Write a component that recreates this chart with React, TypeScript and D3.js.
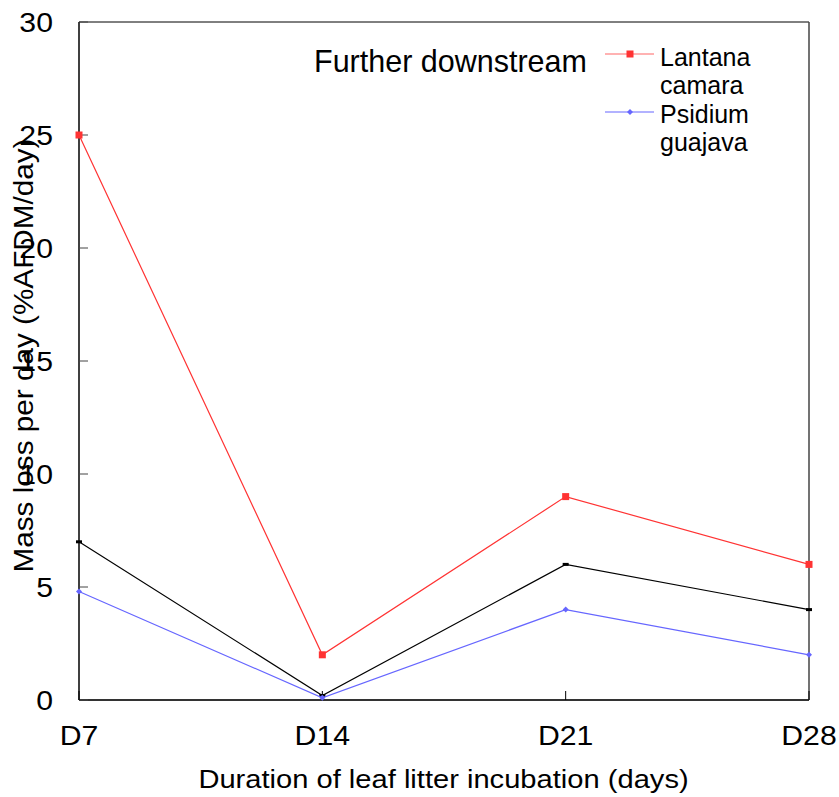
import React from 'react'
import * as d3 from 'd3'

const categories = ['D7', 'D14', 'D21', 'D28']
const yTicks = [0, 5, 10, 15, 20, 25, 30]

const lantana = [25, 2, 9, 6]
const middle = [7, 0.2, 6, 4]
const psidium = [4.8, 0.1, 4, 2]

const FONT = '"Liberation Sans", Arial, sans-serif'
// axis text in the original is a bit wider than plain Arial
const STRETCH = 1.12

const App: React.FC = () => {
  const width = 839
  const height = 797
  const left = 79
  const right = 809
  const top = 22
  const bottom = 700

  const x = d3.scalePoint<string>().domain(categories).range([left, right])
  const y = d3.scaleLinear().domain([0, 30]).range([bottom, top])

  const line = d3.line<number>()
    .x((_, i) => x(categories[i]) as number)
    .y(d => y(d))

  return (
    <svg width={width} height={height} style={{ position: 'absolute', left: 0, top: 0 }} fontFamily={FONT}>
      <rect width={width} height={height} fill='#fff' />
      {/* frame */}
      <line x1={left} x2={right} y1={top} y2={top} stroke='#000' strokeWidth={1} />
      <line x1={right} x2={right} y1={top} y2={bottom} stroke='#444' strokeWidth={1.5} />
      <line x1={left} x2={right} y1={bottom} y2={bottom} stroke='#333' strokeWidth={2} />
      <line x1={left} x2={left} y1={top} y2={bottom} stroke='#000' strokeWidth={1.5} />

      {yTicks.map(t => (
        <g key={t}>
          <line x1={left} x2={left + 9} y1={y(t)} y2={y(t)} stroke='#444' strokeWidth={1} />
          <text transform={`translate(53,${y(t)}) scale(${STRETCH},1)`} dy='0.36em' textAnchor='end' fontSize={27}>{t}</text>
        </g>
      ))}
      {categories.map(c => (
        <g key={c}>
          <line x1={x(c)} x2={x(c)} y1={bottom} y2={bottom - 9} stroke='#000' strokeWidth={1} />
          <text transform={`translate(${x(c)},745) scale(${STRETCH},1)`} textAnchor='middle' fontSize={27}>{c}</text>
        </g>
      ))}

      <text transform={`translate(443.5,788) scale(${STRETCH},1)`} textAnchor='middle' fontSize={26}>Duration of leaf litter incubation (days)</text>
      <text transform={`translate(33,355.5) rotate(-90) scale(1.1,1)`} textAnchor='middle' fontSize={27}>Mass loss per day (%AFDM/day)</text>

      <path d={line(middle) || ''} fill='none' stroke='#000' strokeWidth={1.2} />
      {middle.map((v, i) => (
        <rect key={i} x={(x(categories[i]) as number) - 3} y={y(v) - 1.5} width={6} height={3} fill='#000' />
      ))}
      <path d={line(psidium) || ''} fill='none' stroke='#6666ff' strokeWidth={1.2} />
      {psidium.map((v, i) => {
        const cx = x(categories[i]) as number
        const cy = y(v)
        return <path key={i} d={`M${cx},${cy - 3}L${cx + 3},${cy}L${cx},${cy + 3}L${cx - 3},${cy}Z`} fill='#6666ff' />
      })}
      <path d={line(lantana) || ''} fill='none' stroke='#ff3333' strokeWidth={1.2} />
      {lantana.map((v, i) => (
        <rect key={i} x={(x(categories[i]) as number) - 3.5} y={y(v) - 3.5} width={7} height={7} fill='#ff3333' />
      ))}

      {/* legend */}
      <text x={314} y={72} fontSize={30.5}>Further downstream</text>
      <line x1={605} x2={654} y1={54} y2={54} stroke='#ff6666' strokeWidth={1.2} />
      <rect x={626.5} y={50.5} width={7} height={7} fill='#ff3333' />
      <text x={660} y={66} fontSize={25}>Lantana</text>
      <text x={660} y={94} fontSize={25}>camara</text>
      <line x1={605} x2={654} y1={112} y2={112} stroke='#6666ff' strokeWidth={1.2} />
      <path d='M630,109L633,112L630,115L627,112Z' fill='#6666ff' />
      <text x={660} y={123} fontSize={25}>Psidium</text>
      <text x={660} y={151} fontSize={25}>guajava</text>
    </svg>
  )
}

export default App
